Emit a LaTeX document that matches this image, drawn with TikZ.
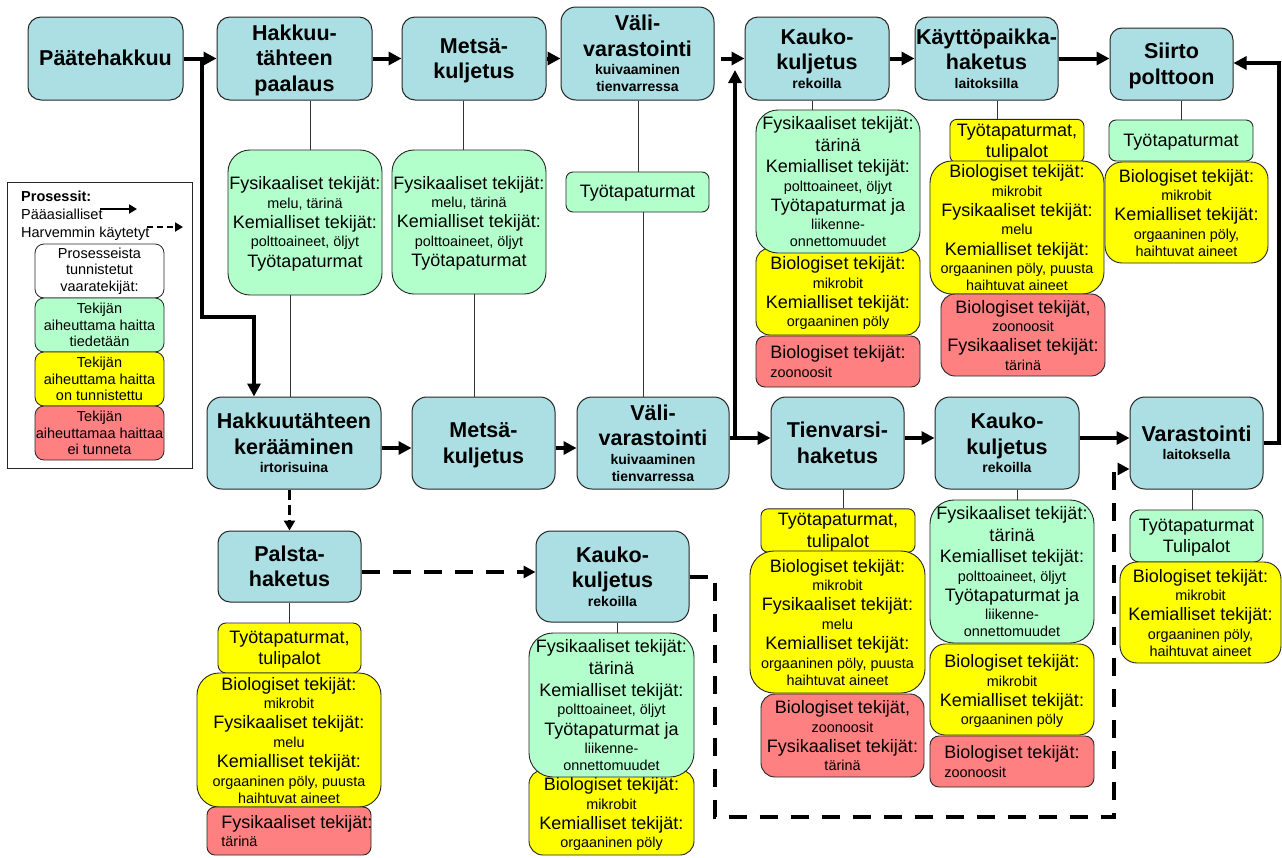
\documentclass[tikz,border=0pt]{standalone}
\usepackage{fontspec}
\setmainfont{Liberation Sans}
\usetikzlibrary{arrows.meta,calc}
\definecolor{pblue}{RGB}{171,223,227}
\definecolor{hgreen}{RGB}{179,255,204}
\definecolor{hyellow}{RGB}{255,255,0}
\definecolor{hred}{RGB}{255,128,128}
\newcommand\hzfont{\fontsize{18}{0}\selectfont\lineskip=0pt\lineskiplimit=0pt\relax}
\newcommand\prfont{\fontsize{21.5}{0}\selectfont\bfseries\lineskip=0pt\lineskiplimit=0pt\relax}
\newcommand\lgfont{\fontsize{14.5}{16.7}\selectfont}
\newcommand\lnB[1]{\rule[-4.9pt]{0pt}{21.7pt}#1}
\newcommand\lnS[1]{{\fontsize{14.4}{0}\selectfont\rule[-3.5pt]{0pt}{17pt}#1}}
\newcommand\lnT[1]{\rule[-5.5pt]{0pt}{25.5pt}#1}
\newcommand\lnU[1]{{\fontsize{14}{0}\selectfont\rule[-4.5pt]{0pt}{17.3pt}#1}}
\newcommand\mkbox[8]{\node[#2, rounded corners=#7pt, minimum width={(#5)-(#3)}, minimum height={(#6)-(#4)}] (#1) at ({((#3)+(#5))/2},{((#4)+(#6))/2}) {#8};}
\newcommand\txtKA{\lnB{Fysikaaliset tekijät:}\\\lnS{melu, tärinä}\\\lnB{Kemialliset tekijät:}\\\lnS{polttoaineet, öljyt}\\\lnB{Työtapaturmat}}
\newcommand\txtKK{\lnB{Fysikaaliset tekijät:}\\\lnB{tärinä}\\\lnB{Kemialliset tekijät:}\\\lnS{polttoaineet, öljyt}\\\lnB{Työtapaturmat ja}\\\lnS{liikenne-}\\\lnS{onnettomuudet}}
\newcommand\txtYK{\lnB{Biologiset tekijät:}\\\lnS{mikrobit}\\\lnB{Kemialliset tekijät:}\\\lnS{orgaaninen pöly}}
\newcommand\txtTT{\lnB{Työtapaturmat,}\\\lnB{tulipalot}}
\newcommand\txtYH{\lnB{Biologiset tekijät:}\\\lnS{mikrobit}\\\lnB{Fysikaaliset tekijät:}\\\lnS{melu}\\\lnB{Kemialliset tekijät:}\\\lnS{orgaaninen pöly, puusta}\\\lnS{haihtuvat aineet}}
\newcommand\txtRH{\lnB{Biologiset tekijät,}\\\lnS{zoonoosit}\\\lnB{Fysikaaliset tekijät:}\\\lnS{tärinä}}
\newcommand\txtYS{\lnB{Biologiset tekijät:}\\\lnS{mikrobit}\\\lnB{Kemialliset tekijät:}\\\lnS{orgaaninen pöly,}\\\lnS{haihtuvat aineet}}
\newcommand\txtRZ{\lnB{Biologiset tekijät:}\\\lnS{zoonoosit}}
\begin{document}
\begin{tikzpicture}[x=1pt,y=-1pt,
  proc/.style={draw=black!85, line width=1pt, fill=pblue, inner sep=0pt, align=center, font=\prfont},
  hz/.style={draw=black!85, line width=0.9pt, inner sep=0pt, align=center, font=\hzfont},
  hzg/.style={hz, fill=hgreen}, hzy/.style={hz, fill=hyellow}, hzr/.style={hz, fill=hred},
  lg/.style={draw=black!85, line width=0.8pt, inner sep=0pt, align=center, font=\lgfont},
  conn/.style={line width=0.8pt, draw=black!80},
  arr/.style={line width=4pt, -{Triangle[length=13pt,width=13pt]}},
  darr/.style={line width=4.5pt, dash pattern=on 18pt off 13pt, -{Triangle[length=12pt,width=12pt]}},
  sdarr/.style={line width=3.5pt, dash pattern=on 10pt off 5pt, -{Triangle[length=10pt,width=11pt]}},
  legarr/.style={line width=2.5pt, -{Triangle[length=8pt,width=9pt]}}
]
\fill[white] (0,0) rectangle (1282,857);
\useasboundingbox (0,0) rectangle (1282,857);

% process boxes
\mkbox{A1}{proc}{28}{17}{183}{100}{13}{\lnT{Päätehakkuu}}
\mkbox{A2}{proc}{217}{17}{372}{100}{13}{\lnT{Hakkuu-}\\\lnT{tähteen}\\\lnT{paalaus}}
\mkbox{A3}{proc}{402}{17}{546}{100}{13}{\lnT{Metsä-}\\\lnT{kuljetus}}
\mkbox{A4}{proc}{561}{7}{714}{100}{15}{\lnT{Väli-}\\\lnT{varastointi}\\\lnU{kuivaaminen}\\\lnU{tienvarressa}}
\mkbox{A5}{proc}{745}{17}{889}{100}{13}{\lnT{Kauko-}\\\lnT{kuljetus}\\\lnU{rekoilla}}
\mkbox{A6}{proc}{915}{17}{1058}{100}{13}{\lnT{Käyttöpaikka-}\\\lnT{haketus}\\\lnU{laitoksilla}}
\mkbox{A7}{proc}{1110}{28}{1233}{100}{12}{\lnT{Siirto}\\\lnT{polttoon}}
\mkbox{B1}{proc}{207}{397}{381}{489}{15}{\lnT{Hakkuutähteen}\\\lnT{kerääminen}\\\lnU{irtorisuina}}
\mkbox{B2}{proc}{412}{397}{555}{489}{15}{\lnT{Metsä-}\\\lnT{kuljetus}}
\mkbox{B3}{proc}{577}{397}{729}{489}{15}{\lnT{Väli-}\\\lnT{varastointi}\\\lnU{kuivaaminen}\\\lnU{tienvarressa}}
\mkbox{B4}{proc}{771}{397}{904}{489}{15}{\lnT{Tienvarsi-}\\\lnT{haketus}}
\mkbox{B5}{proc}{935}{397}{1079}{489}{15}{\lnT{Kauko-}\\\lnT{kuljetus}\\\lnU{rekoilla}}
\mkbox{B6}{proc}{1130}{397}{1263}{489}{15}{\lnT{Varastointi}\\\lnU{laitoksella}}
\mkbox{C1}{proc}{218}{531}{361}{602}{12}{\lnT{Palsta-}\\\lnT{haketus}}
\mkbox{C2}{proc}{536}{531}{689}{622}{15}{\lnT{Kauko-}\\\lnT{kuljetus}\\\lnU{rekoilla}}

% hazard boxes
\mkbox{A2g}{hzg}{228}{150}{382}{295}{22}{\txtKA}
\mkbox{A3g}{hzg}{392}{150}{546}{294}{22}{\txtKA}
\mkbox{A4g}{hzg}{566}{172}{709}{212}{7}{\lnB{Työtapaturmat}}
\mkbox{K2}{hzy}{756}{248}{920}{335}{14}{\txtYK}
\mkbox{K1}{hzg}{756}{110}{920}{253}{22}{\txtKK}
\mkbox{K3}{hzr, align=left}{756}{336}{920}{387}{9}{\txtRZ}
\mkbox{A6y1}{hzy}{950}{120}{1084}{162}{7}{\txtTT}
\mkbox{A6y2}{hzy}{930}{162}{1104}{293}{22}{\txtYH}
\mkbox{A6r}{hzr}{941}{294}{1105}{376}{14}{\txtRH}
\mkbox{A7g}{hzg}{1109}{120}{1253}{161}{7}{\lnB{Työtapaturmat}}
\mkbox{A7y}{hzy}{1105}{162}{1268}{263}{17}{\txtYS}
\mkbox{B4y1}{hzy}{761}{510}{915}{551}{7}{\txtTT}
\mkbox{B4y2}{hzy}{750}{551}{925}{693}{24}{\txtYH}
\mkbox{B4r}{hzr}{761}{694}{924}{777}{14}{\txtRH}
\mkbox{B5g}{hzg}{930}{500}{1094}{643}{24}{\txtKK}
\mkbox{B5y}{hzy}{930}{644}{1094}{735}{15}{\txtYK}
\mkbox{B5r}{hzr, align=left}{930}{736}{1094}{787}{9}{\txtRZ}
\mkbox{B6g}{hzg}{1130}{510}{1263}{562}{9}{\lnB{Työtapaturmat}\\\lnB{Tulipalot}}
\mkbox{B6y}{hzy}{1120}{562}{1281}{663}{17}{\txtYS}
\mkbox{C1y1}{hzy}{218}{623}{361}{673}{8}{\txtTT}
\mkbox{C1y2}{hzy}{197}{673}{381}{807}{22}{\txtYH}
\mkbox{C1r}{hzr}{207}{807}{371}{855}{8}{}
\node[hz, draw=none, align=left, anchor=west] (C1rt) at (221,831) {\lnB{Fysikaaliset tekijät:}\\\lnS{tärinä}};
\mkbox{C2y}{hzy}{529}{770}{694}{855}{14}{\txtYK}
\mkbox{C2g}{hzg}{529}{633}{694}{777}{24}{\txtKK}

% legend
\node[draw=black!85, line width=0.8pt, inner sep=0pt, minimum width=185, minimum height=286] (leg) at (99.5,325) {};
\node[anchor=base west, inner sep=0pt, font=\lgfont\bfseries] (lt) at (21,201) {Prosessit:};
\node[anchor=base west, inner sep=0pt, font=\lgfont] (lp) at (21,219) {Pääasialliset};
\node[anchor=base west, inner sep=0pt, font=\lgfont] (lh) at (21,237) {Harvemmin käytetyt};
\coordinate (la1) at (100,209); \coordinate (la2) at (137,209);
\coordinate (lb1) at (147,227); \coordinate (lb2) at (183,227);
\draw[legarr] (la1) -- (la2);
\draw[legarr, dash pattern=on 6pt off 4pt] (lb1) -- (lb2);
\mkbox{L1}{lg, fill=white}{35}{244}{164}{298}{9}{Prosesseista\\tunnistetut\\vaaratekijät:}
\mkbox{L2}{lg, fill=hgreen}{35}{298}{164}{352}{9}{Tekijän\\aiheuttama haitta\\tiedetään}
\mkbox{L3}{lg, fill=hyellow}{35}{352}{164}{406}{9}{Tekijän\\aiheuttama haitta\\on tunnistettu}
\mkbox{L4}{lg, fill=hred}{35}{406}{164}{460}{9}{Tekijän\\aiheuttamaa haittaa\\ei tunneta}

% thin connectors
\coordinate (cA) at (310,0); \coordinate (cB) at (290,0);
\coordinate (cC) at (463,0); \coordinate (cD) at (474,0);
\coordinate (cE) at (638,0); \coordinate (cF) at (643,0);
\coordinate (cG) at (812,0); \coordinate (cH) at (997,0);
\coordinate (cI) at (1181,0); \coordinate (cJ) at (843,0);
\coordinate (cK) at (1017,0); \coordinate (cL) at (1192,0);
\coordinate (cM) at (289,0); \coordinate (cN) at (617,0);
\draw[conn] (A2.south -| cA) -- (A2g.north -| cA);
\draw[conn] (A2g.south -| cB) -- (B1.north -| cB);
\draw[conn] (A3.south -| cC) -- (A3g.north -| cC);
\draw[conn] (A3g.south -| cD) -- (B2.north -| cD);
\draw[conn] (A4.south -| cE) -- (A4g.north -| cE);
\draw[conn] (A4g.south -| cF) -- (B3.north -| cF);
\draw[conn] (A5.south -| cG) -- (K1.north -| cG);
\draw[conn] (A6.south -| cH) -- (A6y1.north -| cH);
\draw[conn] (A7.south -| cI) -- (A7g.north -| cI);
\draw[conn] (B4.south -| cJ) -- (B4y1.north -| cJ);
\draw[conn] (B5.south -| cK) -- (B5g.north -| cK);
\draw[conn] (B6.south -| cL) -- (B6g.north -| cL);
\draw[conn] (C1.south -| cM) -- (C1y1.north -| cM);
\draw[conn] (C2.south -| cN) -- (C2g.north -| cN);

% main arrows
\coordinate (j1) at (202,0); \coordinate (j2) at (254,317);
\draw[arr] (A1.east) -- (A2.west);
\draw[arr] (A1.east -| j1) |- (j2) -- (j2 |- B1.north);
\draw[arr] (A2.east) -- (A3.west);
\draw[arr] (A3.east) -- (A3.east -| A4.west);
\draw[arr, shorten <=6pt] (A4.east |- A5.west) -- (A5.west);
\draw[arr] (A5.east) -- (A6.west);
\draw[arr] (A6.east) -- (A6.east -| A7.west);
\draw[arr] ($(B1.east)+(0,5)$) -- ($(B2.west)+(0,5)$);
\draw[arr] ($(B2.east)+(0,5)$) -- ($(B3.west)+(0,5)$);
\coordinate (jv) at (735,438); \coordinate (jt) at (735,70);
\draw[arr] ($(B3.east)+(0,-5)$) -- (jv) -- (jt);
\draw[arr] (jv) -- (jv -| B4.west);
\draw[arr] (jv -| B4.east) -- (jv -| B5.west);
\draw[arr] (jv -| B5.east) -- (jv -| B6.west);
\coordinate (jr) at (1279,63);
\draw[arr] (B6.east) -| (jr) -- (jr -| A7.east);

% dashed arrows
\draw[sdarr] (C1.north |- B1.south) -- (C1.north);
\coordinate (yd) at (0,572);
\draw[darr] (C1.east |- yd) -- (C2.west |- yd);
\coordinate (d1) at (715,577); \coordinate (d3) at (1114,817); \coordinate (d4) at (1114,469);
\draw[darr] (C2.east |- d1) -- (d1) |- (d3) -- (d4) -- (d4 -| B6.west);
\end{tikzpicture}
\end{document}
